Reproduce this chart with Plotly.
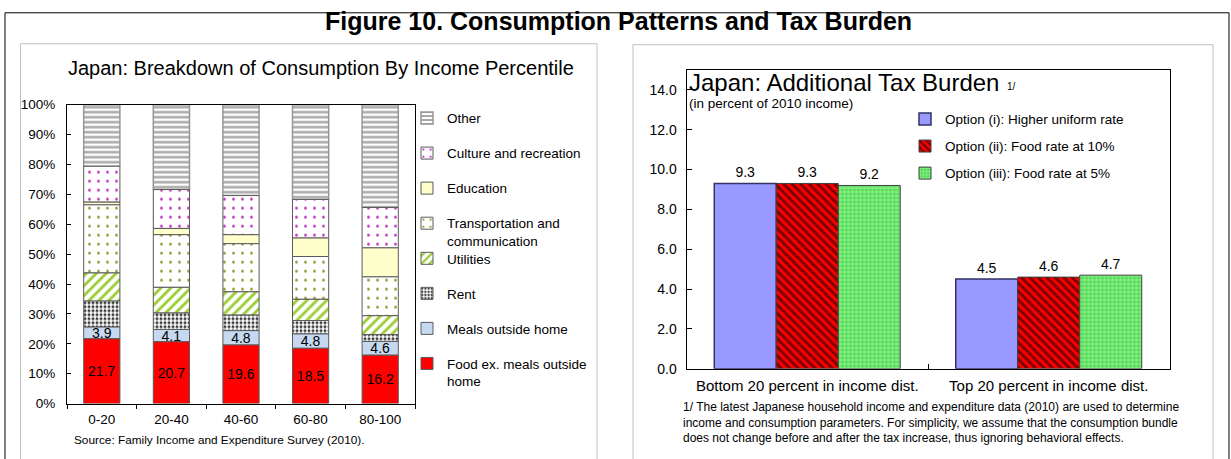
import numpy as np
import plotly.graph_objects as go

W, H = 1231, 459
FONT = "Liberation Sans, Arial, sans-serif"


def px(x):
    return x / W


def py(y):
    return 1 - y / H


# ---- Left panel: consumption shares by income percentile (percent of total) ----
percentiles = ["0-20", "20-40", "40-60", "60-80", "80-100"]
food_ex_meals = [21.7, 20.7, 19.6, 18.5, 16.2]
meals_outside = [3.9, 4.1, 4.8, 4.8, 4.6]
rent = [8.7, 5.5, 5.2, 4.5, 2.3]
utilities = [9.4, 8.6, 7.8, 7.1, 6.3]
transport_comm = [22.8, 17.6, 16.1, 14.3, 13.0]
education = [0.9, 2.1, 3.0, 6.2, 9.7]
culture_recreation = [12.0, 13.0, 13.1, 12.9, 13.5]
other = [20.6, 28.4, 30.4, 31.7, 34.4]

# ---- Right panel: additional tax burden (percent of 2010 income) ----
income_groups = ["Bottom 20 percent in income dist.", "Top 20 percent in income dist."]
option_i = [9.3, 4.5]
option_ii = [9.3, 4.6]
option_iii = [9.2, 4.7]

fig = go.Figure()

# stacked segments, listed bottom to top
segments = [
    ("Food ex. meals outside<br>home", food_ex_meals, "#FF0000", None, "legend2", True),
    ("Meals outside home", meals_outside, "#C6D9F1", None, "legend2", True),
    ("Rent", rent, "white", dict(shape=".", fgcolor="#3A3A3A", size=4, solidity=0.45), "legend2", False),
    ("Utilities", utilities, "white", dict(shape="/", fgcolor="#9ACD32", size=7, solidity=0.4), "legend2", False),
    ("Transportation and<br>communication", transport_comm, "white",
     dict(shape=".", fgcolor="#9C9C3A", size=9, solidity=0.08), "legend", False),
    ("Education", education, "#FFFFCC", None, "legend", False),
    ("Culture and recreation", culture_recreation, "white",
     dict(shape=".", fgcolor="#C43CC4", size=9, solidity=0.08), "legend", False),
    ("Other", other, "white", dict(shape="-", fgcolor="#A8A8A8", size=5, solidity=0.5), "legend", False),
]

# each segment starts where the ones below it end
bases = np.cumsum([np.zeros(len(percentiles))] + [np.array(s[1], dtype=float) for s in segments[:-1]], axis=0)

# added top segment first so the legends list them top-down
for (name, vals, color, pattern, leg, labelled), base in reversed(list(zip(segments, bases))):
    vals = np.array(vals, dtype=float)
    marker = dict(color=color, line=dict(color="#5A5A5A", width=1))
    if pattern is not None:
        marker["pattern"] = dict(bgcolor=color, fillmode="replace", **pattern)
    if name == "Other":
        marker["line"] = dict(color="#969696", width=1.5)
    fig.add_trace(go.Bar(
        x=percentiles, y=vals, base=base, name=name,
        xaxis="x", yaxis="y", offsetgroup="stack", width=0.52,
        marker=marker, legend=leg, legendgroup=name,
        text=[f"{v:.1f}" for v in vals] if labelled else None,
        textposition="inside" if labelled else "none",
        insidetextanchor="middle",
        textfont=dict(size=14, color="black", family=FONT),
        hoverinfo="skip",
    ))

option_styles = [
    ("Option (i): Higher uniform rate", option_i,
     dict(color="#9999FF", line=dict(color="#333366", width=1.5))),
    ("Option (ii): Food rate at 10%", option_ii,
     dict(color="#FF0000", line=dict(color="#404040", width=1),
          pattern=dict(shape="\\", fgcolor="black", bgcolor="#FF0000", size=6, solidity=0.5))),
    ("Option (iii): Food rate at 5%", option_iii,
     dict(color="#66E066", line=dict(color="#404040", width=1),
          pattern=dict(shape=".", fgcolor="#CCFFCC", bgcolor="#55DD55", size=4, solidity=0.45))),
]
for name, vals, marker in option_styles:
    fig.add_trace(go.Bar(
        x=income_groups, y=vals, name=name, xaxis="x2", yaxis="y2",
        marker=marker, legend="legend3", legendgroup=name,
        text=[f"{v:.1f}" for v in vals], textposition="outside",
        textfont=dict(size=14, color="black", family=FONT),
        cliponaxis=False, hoverinfo="skip",
    ))

legend_common = dict(
    font=dict(size=13.5, color="black", family=FONT),
    bgcolor="rgba(0,0,0,0)", borderwidth=0,
    xanchor="left", yanchor="top", valign="top",
    traceorder="grouped", itemclick=False, itemdoubleclick=False,
)

fig.update_layout(
    width=W, height=H,
    margin=dict(l=0, r=0, t=0, b=0),
    paper_bgcolor="white", plot_bgcolor="white",
    font=dict(family=FONT, color="black"),
    barmode="group", bargap=0.23, bargroupgap=0,
    uniformtext=dict(minsize=14, mode="show"),
    showlegend=True,
    legend=dict(x=px(407), y=py(99), tracegroupgap=14.5, **legend_common),
    legend2=dict(x=px(407), y=py(244), tracegroupgap=14.5, **legend_common),
    legend3=dict(x=px(905), y=py(100), tracegroupgap=6.5, **legend_common),
    xaxis=dict(domain=[px(67), px(415)], anchor="y",
               showline=True, linecolor="black", linewidth=1, mirror=True,
               ticks="outside", ticklen=4, tickcolor="black", tickson="boundaries",
               ticklabelstandoff=3,
               tickfont=dict(size=13.5), showgrid=False, fixedrange=True),
    yaxis=dict(domain=[py(410), py(101)], anchor="x", range=[0, 100], dtick=10,
               ticksuffix="%", showline=True, linecolor="black", linewidth=1, mirror=True,
               ticks="inside", ticklen=4, tickcolor="black", ticklabelstandoff=8,
               tickfont=dict(size=13.5), showgrid=False, zeroline=False, fixedrange=True),
    xaxis2=dict(domain=[px(686.5), px(1169.5)], anchor="y2",
                showline=True, linecolor="black", linewidth=1, mirror=True,
                ticks="inside", ticklen=5, tickcolor="black", tickson="boundaries",
                ticklabelstandoff=3,
                tickfont=dict(size=15), showgrid=False, fixedrange=True),
    yaxis2=dict(domain=[py(374), py(65)], anchor="x2", range=[0, 15],
                tickvals=list(range(0, 15, 2)), tickformat=".1f",
                showline=True, linecolor="black", linewidth=1, mirror=True,
                ticks="inside", ticklen=5, tickcolor="black", ticklabelstandoff=6,
                tickfont=dict(size=14), showgrid=False, zeroline=False, fixedrange=True),
    yaxis3=dict(overlaying="y2", anchor="x2", side="right", range=[0, 15],
                tickvals=list(range(0, 15, 2)), tickformat=".1f",
                showline=False, ticks="inside", ticklen=5, tickcolor="black",
                ticklabelstandoff=14, tickfont=dict(size=14),
                showgrid=False, zeroline=False, fixedrange=True),
)

# frames: outer border and the two panel boxes
fig.add_shape(type="rect", xref="paper", yref="paper",
              x0=px(5), x1=px(1229), y0=py(470), y1=py(6),
              line=dict(color="black", width=1), layer="below")
fig.add_shape(type="rect", xref="paper", yref="paper",
              x0=px(20.5), x1=px(597), y0=py(470), y1=py(38),
              line=dict(color="#BFBFBF", width=1), layer="below")
fig.add_shape(type="rect", xref="paper", yref="paper",
              x0=px(633), x1=px(1213), y0=py(470), y1=py(39),
              line=dict(color="#BFBFBF", width=1), layer="below")

annotations = [
    dict(text="<b>Figure 10. Consumption Patterns and Tax Burden</b>", x=px(618), y=py(14),
         xanchor="center", yanchor="middle", font=dict(size=25)),
    dict(text="Japan: Breakdown of Consumption By Income Percentile", x=px(321), y=py(63),
         xanchor="center", yanchor="middle", font=dict(size=20)),
    dict(text="Source: Family Income and Expenditure Survey (2010).", x=px(72), y=py(448),
         xanchor="left", yanchor="middle", font=dict(size=11.8)),
    dict(text="Japan: Additional Tax Burden", x=px(687), y=py(78),
         xanchor="left", yanchor="middle", font=dict(size=24)),
    dict(text="1/", x=px(1005), y=py(82), xanchor="left", yanchor="middle", font=dict(size=10)),
    dict(text="(in percent of 2010 income)", x=px(687), y=py(100),
         xanchor="left", yanchor="middle", font=dict(size=13.5)),
    dict(text="1/ The latest Japanese household income and expenditure data (2010) are used to determine"
              "<br>income and consumption parameters. For simplicity, we assume that the consumption bundle"
              "<br>does not change before and after the tax increase, thus ignoring behavioral effects.",
         x=px(681), y=py(430), xanchor="left", yanchor="middle", align="left",
         font=dict(size=12)),
]
for a in annotations:
    fig.add_annotation(xref="paper", yref="paper", showarrow=False, **a)

fig.write_html("out.html")
